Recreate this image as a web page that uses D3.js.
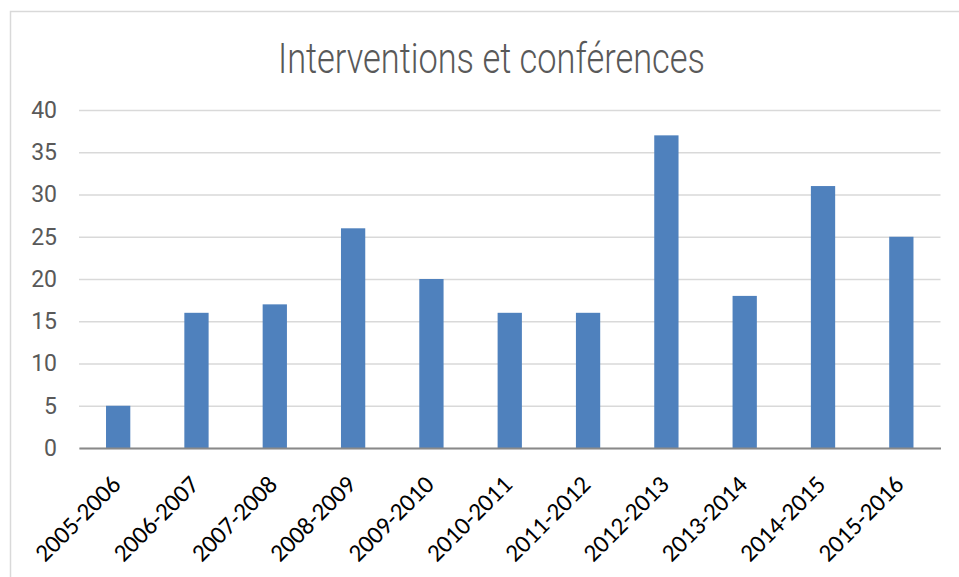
<!DOCTYPE html>
<html>
<head>
<meta charset="utf-8">
<script src="https://cdn.jsdelivr.net/npm/d3@7"></script>
<style>
  body { margin: 0; background: #fff; }
</style>
</head>
<body>
<div id="chart"></div>
<script>
const title = "Interventions et conférences"
const categories = ["2005-2006", "2006-2007", "2007-2008", "2008-2009", "2009-2010",
  "2010-2011", "2011-2012", "2012-2013", "2013-2014", "2014-2015", "2015-2016"]
const values = [5, 16, 17, 26, 20, 16, 16, 37, 18, 31, 25]
const yTicks = [0, 5, 10, 15, 20, 25, 30, 35, 40]

const width = 959
const height = 577
const plot = {left: 79, right: 940.5, top: 110, bottom: 448}
const narrow = "Roboto, 'Liberation Sans', sans-serif"

const svg = d3.select("#chart")
  .append("svg")
  .attr("width", width)
  .attr("height", height)

// chart area border (runs off the right and bottom of the picture)
svg.append("rect")
  .attr("x", 10.5)
  .attr("y", 11.5)
  .attr("width", 1000)
  .attr("height", 700)
  .attr("fill", "#fff")
  .attr("stroke", "#d9d9d9")
  .attr("stroke-width", 1.5)

// title squeezed to the narrow width of the original
svg.append("text")
  .attr("x", 278)
  .attr("y", 73)
  .attr("font-family", narrow)
  .attr("font-weight", 300)
  .attr("font-size", 42)
  .attr("fill", "#595959")
  .attr("textLength", 427)
  .attr("lengthAdjust", "spacingAndGlyphs")
  .text(title)

const x = d3.scaleBand()
  .domain(categories)
  .range([plot.left, plot.right])
  .paddingInner(0.69)
  .paddingOuter(0.345)

const y = d3.scaleLinear()
  .domain([0, 40])
  .range([plot.bottom, plot.top])

// gridlines + y labels
const yAxis = svg.append("g")
  .attr("transform", `translate(${plot.left}, 0)`)
  .call(d3.axisLeft(y)
    .tickValues(yTicks)
    .tickSize(-(plot.right - plot.left))
    .tickPadding(22))

yAxis.select(".domain").remove()
yAxis.selectAll(".tick line")
  .attr("stroke", "#d9d9d9")
  .attr("stroke-width", 1.5)
yAxis.selectAll(".tick text")
  .attr("font-family", narrow)
  .attr("font-size", 23)
  .attr("fill", "#595959")

// bars
svg.append("g")
  .selectAll("rect")
  .data(values)
  .join("rect")
  .attr("x", (d, i) => x(categories[i]))
  .attr("y", d => y(d))
  .attr("width", x.bandwidth())
  .attr("height", d => y(0) - y(d))
  .attr("fill", "#4f81bd")

// x axis
const xAxis = svg.append("g")
  .attr("transform", `translate(0, ${plot.bottom})`)
  .call(d3.axisBottom(x).tickSize(0).tickSizeOuter(0))

xAxis.select(".domain")
  .attr("stroke", "#898989")
  .attr("stroke-width", 2)
xAxis.selectAll(".tick text")
  .attr("font-family", "Carlito, Lato, 'Open Sans', sans-serif")
  .attr("font-size", 25)
  .attr("fill", "#000")
  .attr("text-anchor", "end")
  .attr("dy", null)
  .attr("y", null)
  .attr("transform", "translate(4, 38) rotate(-45)")
</script>
</body>
</html>
